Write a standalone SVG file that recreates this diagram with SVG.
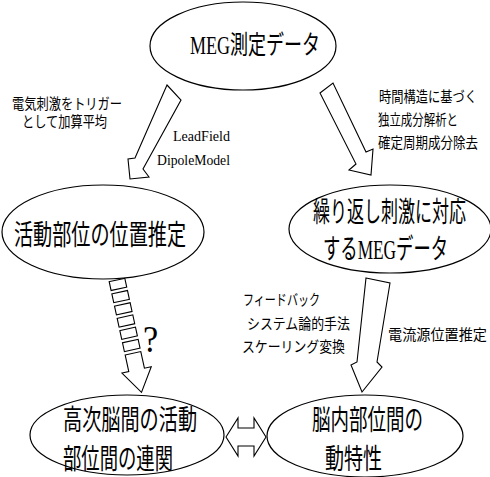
<svg xmlns="http://www.w3.org/2000/svg" width="490" height="477" viewBox="0 0 490 477">
<style>
.n{fill:#fff;stroke:#000;stroke-width:1.2}
.a{fill:#fff;stroke:#000;stroke-width:1.1;stroke-linejoin:miter}
text{font-family:"Liberation Serif","Noto Sans CJK JP",serif;fill:#000}
.big{font-size:28px}
.sm{font-size:15px}
</style>
<rect width="490" height="477" fill="#fff"/>
<g id="connectors">
<polygon class="a" points="167,85 181,100 143,169 149,177 130,179 128,159 135,158"/>
<polygon class="a" points="320,93 333,83 366,152 373,149 371,175 349,170 356,164"/>
<g transform="translate(117,280) rotate(-12.3)">
<rect class="a" x="-8" y="0" width="16" height="9"/>
<rect class="a" x="-8" y="12.5" width="16" height="9"/>
<rect class="a" x="-8" y="25" width="16" height="9"/>
<rect class="a" x="-8" y="37.5" width="16" height="9"/>
<rect class="a" x="-8" y="50" width="16" height="9"/>
<rect class="a" x="-8" y="62.5" width="16" height="9"/>
<polygon class="a" points="-8,75 8,75 8,92 15,92 0,115 -15,92 -8,92"/>
</g>
<polygon class="a" points="366,278 390,283 377,362 382,367 362,392 351,365 357,362"/>
<polygon class="a" points="226,437 238,418 238,428 254,428 254,418 266,437 254,456 254,446 238,446 238,456"/>
</g>
<g id="n1"><ellipse class="n" cx="243" cy="46" rx="93" ry="44"/>
<text transform="translate(190,54) scale(0.692,1)" font-size="26" textLength="188" lengthAdjust="spacingAndGlyphs">MEG測定データ</text></g>
<g id="n2"><ellipse class="n" cx="103" cy="232" rx="101" ry="47"/>
<text class="big" transform="translate(14,245) scale(0.683,1)" textLength="252" lengthAdjust="spacingAndGlyphs">活動部位の位置推定</text></g>
<g id="n3"><ellipse class="n" cx="390" cy="229" rx="101" ry="44"/>
<text class="big" transform="translate(313,222) scale(0.607,1)" textLength="252" lengthAdjust="spacingAndGlyphs">繰り返し刺激に対応</text>
<text class="big" transform="translate(323,259) scale(0.619,1)" textLength="202" lengthAdjust="spacingAndGlyphs">するMEGデータ</text></g>
<g id="n4"><ellipse class="n" cx="127" cy="435" rx="97" ry="40"/>
<text class="big" transform="translate(63,430) scale(0.684,1)" textLength="196" lengthAdjust="spacingAndGlyphs">高次脳間の活動</text>
<text class="big" transform="translate(63,469) scale(0.655,1)" textLength="168" lengthAdjust="spacingAndGlyphs">部位間の連関</text></g>
<g id="n5"><ellipse class="n" cx="365" cy="436" rx="98" ry="41"/>
<text class="big" transform="translate(312,430) scale(0.661,1)" textLength="168" lengthAdjust="spacingAndGlyphs">脳内部位間の</text>
<text class="big" transform="translate(325,469) scale(0.679,1)" textLength="84" lengthAdjust="spacingAndGlyphs">動特性</text></g>
<g id="labels">
<text class="sm" transform="translate(12,109) scale(0.815,1)" textLength="135" lengthAdjust="spacingAndGlyphs">電気刺激をトリガー</text>
<text class="sm" transform="translate(22,127) scale(0.81,1)" textLength="105" lengthAdjust="spacingAndGlyphs">として加算平均</text>
<text class="sm" transform="translate(173,141) scale(0.94,1)" textLength="60.6" lengthAdjust="spacingAndGlyphs">LeadField</text>
<text class="sm" transform="translate(157,165) scale(0.91,1)" textLength="80.2" lengthAdjust="spacingAndGlyphs">DipoleModel</text>
<text class="sm" transform="translate(379,102) scale(0.817,1)" textLength="120" lengthAdjust="spacingAndGlyphs">時間構造に基づく</text>
<text class="sm" transform="translate(378,125) scale(0.762,1)" textLength="105" lengthAdjust="spacingAndGlyphs">独立成分解析と</text>
<text class="sm" transform="translate(378,148) scale(0.833,1)" textLength="120" lengthAdjust="spacingAndGlyphs">確定周期成分除去</text>
<text class="sm" transform="translate(243,305) scale(0.733,1)" textLength="105" lengthAdjust="spacingAndGlyphs">フィードバック</text>
<text class="sm" transform="translate(247,329) scale(0.858,1)" textLength="120" lengthAdjust="spacingAndGlyphs">システム論的手法</text>
<text class="sm" transform="translate(242,352) scale(0.858,1)" textLength="120" lengthAdjust="spacingAndGlyphs">スケーリング変換</text>
<text class="sm" transform="translate(388,340) scale(0.943,1)" textLength="105" lengthAdjust="spacingAndGlyphs">電流源位置推定</text>
<text transform="translate(143,352) scale(0.9,1)" font-size="38">?</text>
</g>
</svg>
